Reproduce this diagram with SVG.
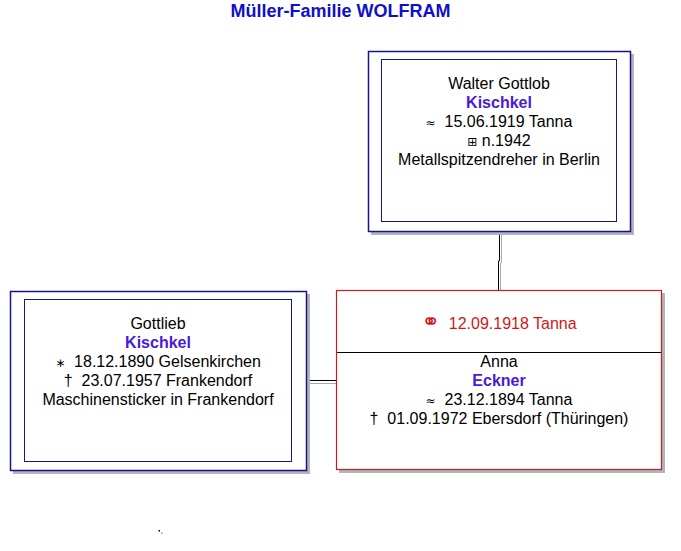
<svg xmlns="http://www.w3.org/2000/svg" width="681" height="551" viewBox="0 0 681 551">
<style>
  text { font-family: "Liberation Sans", Arial, sans-serif; font-size: 16px; fill: #000; text-anchor: middle; white-space: pre; }
  .title { font-size: 18px; font-weight: bold; fill: #1010C8; }
  .sur { font-weight: bold; fill: #4A1AD6; }
  .mar { fill: #D01818; }
  .sym { font-family: "DejaVu Sans", sans-serif; font-size: 12px; }
  .shadow { fill: #B4B4B8; stroke: none; }
  .outer { fill: #fff; stroke: #14148C; stroke-width: 1.5; }
  .inner { fill: #fff; stroke: #14148C; stroke-width: 1; }
  .red { fill: #fff; stroke: #C81E1E; stroke-width: 1.2; }
  .conn { fill: none; stroke: #000; stroke-width: 1; }
  .connG { fill: none; stroke: #AAAAAA; stroke-width: 1; }
</style>
<rect width="681" height="551" fill="#fff"/>
<text class="title" x="340.5" y="17">Müller-Familie WOLFRAM</text>

<g id="connectors">
  <polyline class="connG" points="501.5,234 501.5,263 500.5,263 500.5,291"/>
  <polyline class="conn" points="499.5,232 499.5,261 498.5,261 498.5,291"/>
  <line class="conn" x1="307" y1="380.5" x2="337" y2="380.5"/>
  <line class="connG" x1="310" y1="383.5" x2="337" y2="383.5"/>
</g>

<g id="walter">
  <rect class="shadow" x="371" y="54" width="263" height="181"/>
  <rect class="outer" x="368.5" y="51.5" width="262" height="180"/>
  <rect class="inner" x="381.5" y="59.5" width="235" height="162"/>
  <text x="499" y="89">Walter Gottlob</text>
  <text class="sur" x="499" y="108">Kischkel</text>
  <text x="499" y="127"><tspan class="sym">≈</tspan>  15.06.1919 Tanna</text>
  <text x="499" y="146"><tspan class="sym" font-size="14px">⊞</tspan> n.1942</text>
  <text x="499" y="165">Metallspitzendreher in Berlin</text>
</g>

<g id="gottlieb">
  <rect class="shadow" x="13" y="294" width="297" height="180"/>
  <rect class="outer" x="10.5" y="291.5" width="296" height="179"/>
  <rect class="inner" x="24.5" y="299.5" width="267" height="162"/>
  <text x="158" y="329">Gottlieb</text>
  <text class="sur" x="158" y="348">Kischkel</text>
  <text x="158" y="367"><tspan class="sym" font-size="15px">∗</tspan>  18.12.1890 Gelsenkirchen</text>
  <text x="158" y="386">†  23.07.1957 Frankendorf</text>
  <text x="158" y="405">Maschinensticker in Frankendorf</text>
</g>

<g id="anna">
  <rect class="shadow" x="339" y="293" width="326" height="180"/>
  <rect class="red" x="336.5" y="290.5" width="325" height="179"/>
  <line x1="337" y1="352.5" x2="661" y2="352.5" stroke="#000" stroke-width="1"/>
  <text class="mar" x="499" y="329"><tspan font-family="DejaVu Sans, sans-serif" font-size="22px">⚭</tspan>  12.09.1918 Tanna</text>
  <text x="499" y="367">Anna</text>
  <text class="sur" x="499" y="386">Eckner</text>
  <text x="499" y="405"><tspan class="sym">≈</tspan>  23.12.1894 Tanna</text>
  <text x="499" y="424">†  01.09.1972 Ebersdorf (Thüringen)</text>
</g>

<rect x="158.5" y="530" width="1.5" height="1.5" fill="#000"/>
<rect x="161" y="532.5" width="1.5" height="1.5" fill="#999"/>
</svg>
